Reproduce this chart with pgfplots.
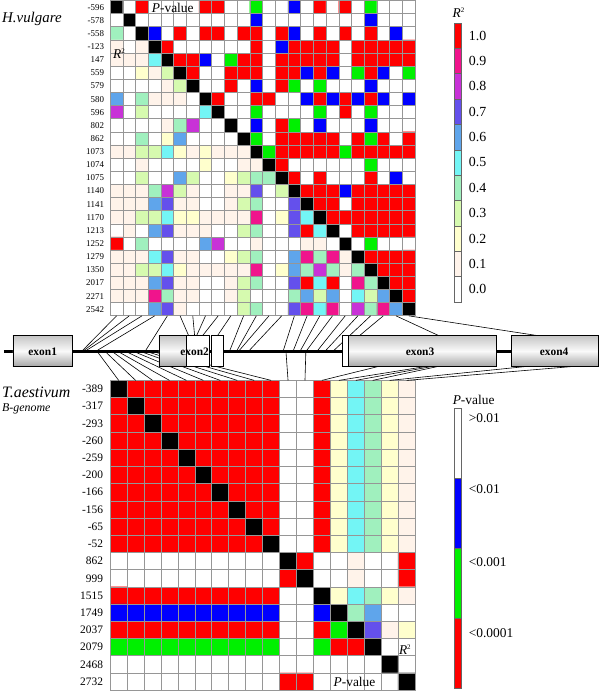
\documentclass[border=0pt]{standalone}
\usepackage{pgfplots}
\pgfplotsset{compat=1.18}
\usepackage{pgfplotstable}
\usepackage{fontspec}
\setmainfont{Liberation Serif}

\definecolor{r0}{RGB}{255,255,255}
\definecolor{r1}{RGB}{255,243,234}
\definecolor{r2}{RGB}{255,255,205}
\definecolor{r3}{RGB}{214,250,175}
\definecolor{r4}{RGB}{160,240,190}
\definecolor{r5}{RGB}{115,245,245}
\definecolor{r6}{RGB}{95,165,235}
\definecolor{r7}{RGB}{100,80,236}
\definecolor{r8}{RGB}{200,50,215}
\definecolor{r9}{RGB}{240,20,140}
\definecolor{r10}{RGB}{255,0,0}
\definecolor{pb}{RGB}{0,0,255}
\definecolor{pg}{RGB}{0,240,0}
\definecolor{gridc}{RGB}{150,150,150}

% codes: 0..10 = R^2 classes, 12 = P<0.01 (blue), 13 = P<0.001 (green), 10 = red, 15 = diagonal
\pgfplotstableread[row sep=\\]{
c\\
15\\0\\10\\0\\0\\0\\0\\10\\10\\0\\0\\13\\0\\0\\12\\0\\10\\0\\10\\0\\13\\0\\0\\0\\
0\\15\\0\\0\\0\\0\\0\\0\\0\\0\\0\\12\\0\\0\\0\\0\\0\\0\\0\\0\\12\\0\\0\\0\\
4\\0\\15\\12\\0\\10\\0\\10\\10\\0\\10\\10\\0\\10\\12\\0\\10\\0\\10\\0\\10\\0\\12\\0\\
1\\0\\1\\15\\10\\0\\0\\0\\0\\0\\0\\10\\0\\12\\10\\10\\10\\10\\0\\10\\10\\10\\10\\10\\
1\\1\\1\\5\\15\\10\\10\\12\\0\\13\\10\\10\\0\\10\\10\\10\\10\\10\\0\\10\\10\\10\\10\\10\\
0\\0\\2\\1\\3\\15\\10\\0\\0\\10\\10\\10\\0\\10\\10\\12\\10\\12\\0\\13\\10\\12\\0\\13\\
0\\0\\0\\0\\1\\3\\15\\0\\0\\10\\0\\12\\0\\10\\13\\0\\13\\0\\0\\0\\12\\0\\0\\0\\
6\\0\\4\\1\\1\\1\\0\\15\\10\\0\\0\\10\\10\\0\\0\\12\\10\\12\\10\\12\\10\\12\\0\\12\\
8\\0\\3\\0\\0\\0\\0\\5\\15\\0\\0\\13\\0\\0\\0\\0\\13\\0\\10\\0\\13\\0\\0\\0\\
0\\0\\0\\0\\1\\4\\8\\0\\0\\15\\0\\12\\0\\10\\13\\0\\12\\0\\0\\0\\12\\0\\0\\0\\
0\\0\\4\\0\\2\\6\\0\\0\\0\\0\\15\\13\\0\\10\\10\\10\\10\\10\\0\\10\\13\\10\\0\\10\\
1\\1\\3\\3\\5\\2\\1\\2\\1\\1\\1\\15\\13\\10\\10\\10\\10\\10\\13\\10\\10\\10\\10\\10\\
0\\0\\1\\0\\0\\0\\0\\2\\0\\0\\1\\1\\15\\10\\0\\0\\0\\0\\0\\0\\13\\0\\0\\0\\
0\\0\\3\\0\\0\\6\\3\\0\\0\\2\\3\\4\\4\\15\\10\\0\\10\\0\\0\\0\\10\\0\\12\\0\\
1\\1\\1\\4\\8\\3\\1\\0\\0\\1\\1\\7\\0\\3\\15\\10\\10\\10\\12\\10\\10\\10\\10\\10\\
1\\1\\1\\6\\7\\1\\1\\0\\0\\1\\3\\4\\0\\0\\7\\15\\10\\10\\0\\10\\10\\10\\10\\10\\
1\\1\\3\\3\\5\\2\\2\\1\\1\\1\\1\\9\\0\\2\\7\\5\\15\\10\\10\\10\\10\\10\\10\\10\\
0\\1\\0\\6\\7\\1\\1\\1\\0\\0\\3\\4\\0\\0\\7\\10\\5\\15\\0\\10\\10\\10\\10\\10\\
10\\0\\4\\0\\0\\0\\0\\6\\8\\0\\0\\1\\0\\0\\0\\1\\1\\0\\15\\0\\13\\0\\0\\0\\
1\\1\\1\\5\\7\\1\\1\\0\\0\\2\\3\\4\\0\\0\\6\\9\\4\\9\\1\\15\\10\\10\\10\\10\\
1\\1\\3\\3\\5\\2\\1\\1\\1\\1\\1\\9\\0\\2\\6\\4\\8\\4\\1\\4\\15\\10\\10\\10\\
1\\1\\1\\6\\7\\1\\1\\0\\0\\1\\3\\4\\0\\0\\7\\10\\5\\10\\0\\9\\4\\15\\10\\10\\
1\\1\\1\\9\\4\\1\\1\\0\\0\\1\\3\\0\\0\\0\\4\\6\\3\\6\\0\\5\\3\\6\\15\\10\\
0\\0\\0\\6\\7\\1\\0\\0\\0\\0\\3\\4\\0\\0\\7\\9\\5\\9\\0\\8\\4\\9\\6\\15\\
}\topLD

\pgfplotstableread[row sep=\\]{
c\\
15\\10\\10\\10\\10\\10\\10\\10\\10\\10\\0\\0\\10\\2\\5\\4\\2\\1\\
10\\15\\10\\10\\10\\10\\10\\10\\10\\10\\0\\0\\10\\2\\5\\4\\2\\1\\
10\\10\\15\\10\\10\\10\\10\\10\\10\\10\\0\\0\\10\\2\\5\\4\\2\\1\\
10\\10\\10\\15\\10\\10\\10\\10\\10\\10\\0\\0\\10\\2\\5\\4\\2\\1\\
10\\10\\10\\10\\15\\10\\10\\10\\10\\10\\0\\0\\10\\2\\5\\4\\2\\1\\
10\\10\\10\\10\\10\\15\\10\\10\\10\\10\\0\\0\\10\\2\\5\\4\\2\\1\\
10\\10\\10\\10\\10\\10\\15\\10\\10\\10\\0\\0\\10\\2\\5\\4\\2\\1\\
10\\10\\10\\10\\10\\10\\10\\15\\10\\10\\0\\0\\10\\2\\5\\4\\2\\1\\
10\\10\\10\\10\\10\\10\\10\\10\\15\\10\\0\\0\\10\\2\\5\\4\\2\\1\\
10\\10\\10\\10\\10\\10\\10\\10\\10\\15\\0\\0\\10\\2\\5\\4\\2\\1\\
0\\0\\0\\0\\0\\0\\0\\0\\0\\0\\15\\10\\0\\0\\1\\0\\0\\10\\
0\\0\\0\\0\\0\\0\\0\\0\\0\\0\\10\\15\\0\\0\\1\\0\\0\\10\\
10\\10\\10\\10\\10\\10\\10\\10\\10\\10\\0\\0\\15\\2\\5\\4\\2\\1\\
12\\12\\12\\12\\12\\12\\12\\12\\12\\12\\0\\0\\12\\15\\4\\6\\0\\0\\
10\\10\\10\\10\\10\\10\\10\\10\\10\\10\\0\\0\\10\\13\\15\\7\\1\\2\\
13\\13\\13\\13\\13\\13\\13\\13\\13\\13\\0\\0\\13\\10\\10\\15\\0\\0\\
0\\0\\0\\0\\0\\0\\0\\0\\0\\0\\0\\0\\0\\0\\0\\0\\15\\0\\
0\\0\\0\\0\\0\\0\\0\\0\\0\\0\\10\\10\\0\\0\\0\\0\\0\\15\\
}\botLD

\pgfplotsset{
  ldmap/.style={
    colormap={ld}{rgb255=(255,255,255) rgb255=(255,243,234) rgb255=(255,255,205)
      rgb255=(214,250,175) rgb255=(160,240,190) rgb255=(115,245,245) rgb255=(95,165,235)
      rgb255=(100,80,236) rgb255=(200,50,215) rgb255=(240,20,140) rgb255=(255,0,0)
      rgb255=(255,255,255) rgb255=(0,0,255) rgb255=(0,240,0) rgb255=(255,0,0) rgb255=(0,0,0)},
    colormap access=direct,
  },
  ldaxis/.style={
    scale only axis, anchor=north west, at={(0pt,0pt)}, enlargelimits=false,
    xticklabels={}, major tick length=0pt, minor tick length=0pt,
    xmajorgrids=true, yminorgrids=true,
    major grid style={gridc, line width=0.7pt},
    minor grid style={gridc, line width=0.7pt},
    axis line style={gridc, line width=0.7pt},
    axis on top, ldmap,
  },
}

\begin{document}
\begin{tikzpicture}

% ---------- top matrix (H. vulgare) ----------
\begin{scope}[shift={(111pt,-0.5pt)}]
\begin{axis}[ldaxis, width=307pt, height=317.5pt,
  xmin=-0.5, xmax=23.5, ymin=-23.5, ymax=0.5,
  xtick={0.5,1.5,...,22.5}, minor ytick={-22.5,-21.5,...,-0.5},
  ytick={-23,-22,...,0},
  yticklabels={2542,2271,2017,1350,1279,1252,1213,1170,1141,1140,1075,1074,1073,862,802,596,580,579,559,147,-123,-558,-578,-596},
  yticklabel style={font=\fontsize{9}{10}\selectfont, inner sep=0pt, xshift=-6pt},
]
\addplot[matrix plot*, mesh/cols=24, point meta=explicit]
  table[x index=0, y index=0, meta index=0,
        x expr={\coordindex-24*floor((\coordindex+0.5)/24)},
        y expr={-floor((\coordindex+0.5)/24)}] {\topLD};
\end{axis}
\end{scope}

% ---------- bottom matrix (T. aestivum) ----------
\begin{scope}[shift={(111pt,-383pt)}]
\begin{axis}[ldaxis, width=307pt, height=312pt,
  xmin=-0.5, xmax=17.5, ymin=-17.5, ymax=0.5,
  xtick={0.5,1.5,...,16.5}, minor ytick={-16.5,-15.5,...,-0.5},
  ytick={-17,-16,...,0},
  yticklabels={2732,2468,2079,2037,1749,1515,999,862,-52,-65,-156,-166,-200,-259,-260,-293,-317,-389},
  yticklabel style={font=\fontsize{11.5}{12}\selectfont, inner sep=0pt, xshift=-7pt},
]
\addplot[matrix plot*, mesh/cols=18, point meta=explicit]
  table[x index=0, y index=0, meta index=0,
        x expr={\coordindex-18*floor((\coordindex+0.5)/18)},
        y expr={-floor((\coordindex+0.5)/18)}] {\botLD};
\end{axis}
\end{scope}

\begin{scope}[x=1pt,y=1pt]
\path (0,0) rectangle (603,-697);
% ---------- labels inside matrices ----------
\node[font=\fontsize{13.5}{14}\selectfont] at (174,-8) {\textit{P}-value};
\node[font=\fontsize{13.5}{14}\selectfont] at (120,-54) {\textit{R}\textsuperscript{\fontsize{7}{7}\selectfont 2}};
\node[font=\fontsize{13.5}{14}\selectfont] at (408,-654) {\textit{R}\textsuperscript{\fontsize{7}{7}\selectfont 2}};
\node[font=\fontsize{13.5}{14}\selectfont] at (357,-687) {\textit{P}-value};

% ---------- species labels ----------
\node[anchor=west, inner sep=0pt, font=\fontsize{15}{16}\selectfont\itshape] at (2,-19) {H.vulgare};
\node[anchor=west, inner sep=0pt, font=\fontsize{16}{17}\selectfont\itshape] at (2,-395) {T.aestivum};
\node[anchor=west, inner sep=0pt, font=\fontsize{12}{13}\selectfont\itshape] at (2,-412) {B-genome};

% ---------- gene structure ----------
\foreach \j/\g/\e in {0/82/354, 1/83/354, 2/85/354, 3/96/354, 4/146/354, 5/190/338, 6/196/338, 7/198/338,
  8/204/338, 9/219/338, 10/231/354, 11/238/354, 12/240/354, 13/250/354, 14/285/354, 15/295/354,
  16/302/354, 17/308/354, 18/319/354, 19/327/354, 20/335/354, 21/362/338, 22/442/338, 23/542/338}
  \draw[line width=0.6pt] ({111+12.7917*(\j+0.5)},-318) -- (\g,-\e);
\foreach \j/\g/\e in {0/98/354, 1/106/354, 2/113/354, 3/119/354, 4/127/354, 5/135/354, 6/142/354,
  7/148/354, 8/154/354, 9/158/354, 10/288/354, 11/308/354, 12/381/369, 13/429/369, 14/435/369,
  15/441/369, 16/530/369, 17/577/369}
  \draw[line width=0.6pt] (\g,-\e) -- ({111+17.0556*(\j+0.5)},-383);

\draw[line width=2.6pt] (4,-354) -- (602,-354);
\tikzset{exon/.style={top color=gray!45, bottom color=gray!70, middle color=gray!4, draw=black, line width=0.5pt}}
\shadedraw[exon] (13,-338) rectangle (73,-369);
\shadedraw[exon] (160,-338) rectangle (188,-369);
\filldraw[fill=white, draw=black, line width=0.5pt] (188,-338) rectangle (211,-369);
\filldraw[fill=white, draw=black, line width=0.5pt] (213,-338) rectangle (225,-369);
\filldraw[fill=white, draw=black, line width=0.5pt] (345,-338) rectangle (351,-369);
\shadedraw[exon] (351,-338) rectangle (500,-369);
\shadedraw[exon] (515,-338) rectangle (602,-369);
\node[font=\fontsize{11.5}{12}\selectfont\bfseries] at (43,-354) {exon1};
\node[font=\fontsize{11.5}{12}\selectfont\bfseries] at (196,-354) {exon2};
\node[font=\fontsize{11.5}{12}\selectfont\bfseries] at (423,-354) {exon3};
\node[font=\fontsize{11.5}{12}\selectfont\bfseries] at (558,-354) {exon4};

% ---------- R^2 key ----------
\node[font=\fontsize{13.5}{14}\selectfont] at (462,-13) {\textit{R}\textsuperscript{\fontsize{7}{7}\selectfont 2}};
\foreach \c/\l [count=\i from 0] in {r10/1.0, r9/0.9, r8/0.8, r7/0.7, r6/0.6, r5/0.5, r4/0.4, r3/0.3, r2/0.2, r1/0.1, r0/0.0}{
  \filldraw[fill=\c, draw=gray!80!black, line width=0.5pt] (457,{-23-25.55*\i}) rectangle (465,{-23-25.55*(\i+1)});
  \node[anchor=west, inner sep=0pt, font=\fontsize{14}{15}\selectfont] at (472,{-23-25.55*(\i+0.5)}) {\l};
}

% ---------- P-value key ----------
\node[font=\fontsize{13.5}{14}\selectfont] at (477,-403) {\textit{P}-value};
\filldraw[fill=white, draw=gray!80!black, line width=0.5pt] (457,-411) rectangle (465,-481.5);
\filldraw[fill=pb, draw=gray!80!black, line width=0.5pt] (457,-481.5) rectangle (465,-552);
\filldraw[fill=pg, draw=gray!80!black, line width=0.5pt] (457,-552) rectangle (465,-622.5);
\filldraw[fill=r10, draw=gray!80!black, line width=0.5pt] (457,-622.5) rectangle (465,-693);
\node[anchor=west, inner sep=0pt, font=\fontsize{13.5}{14}\selectfont] at (472,-421) {>0.01};
\node[anchor=west, inner sep=0pt, font=\fontsize{13.5}{14}\selectfont] at (472,-493) {<0.01};
\node[anchor=west, inner sep=0pt, font=\fontsize{13.5}{14}\selectfont] at (472,-566) {<0.001};
\node[anchor=west, inner sep=0pt, font=\fontsize{13.5}{14}\selectfont] at (472,-638) {<0.0001};
\end{scope}
\end{tikzpicture}
\end{document}
